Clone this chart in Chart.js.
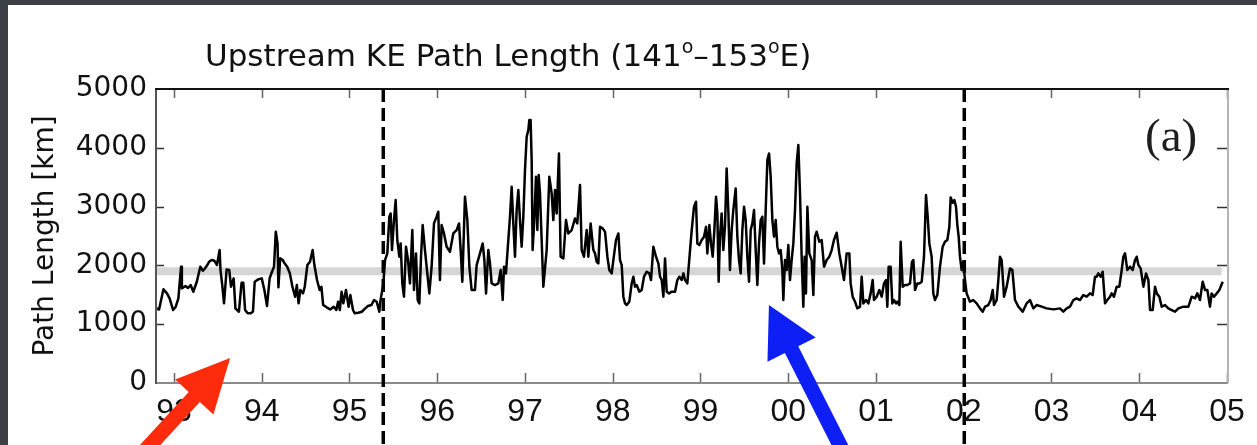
<!DOCTYPE html>
<html><head><meta charset="utf-8">
<script src="https://cdn.jsdelivr.net/npm/chart.js@4/dist/chart.umd.min.js"></script>
<style>html,body{margin:0;padding:0;background:#3d4047;}canvas{display:block;}</style>
</head><body>
<canvas id="c" width="1257" height="445"></canvas>
<script>
// decimal year minus 1900, path length [km]
const stable1993to1995 = [
[92.80,1270],[92.83,1250],[92.88,1593],[92.92,1525],[92.95,1440],[92.99,1241],
[93.02,1297],[93.05,1440],[93.08,1977],[93.09,1610],[93.13,1649],[93.16,1615],[93.19,1666],[93.22,1552],[93.26,1722],[93.30,1977],
[93.33,1909],[93.35,1943],[93.38,2006],[93.40,2062],[93.43,2091],[93.46,2080],[93.49,2006],[93.52,2261],[93.53,1921],[93.55,1666],
[93.57,1355],[93.60,1932],[93.63,1921],[93.65,1637],[93.68,1779],[93.70,1270],[93.72,1241],[93.74,1212],[93.77,1705],[93.79,1705],
[93.81,1241],[93.84,1185],[93.87,1185],[93.90,1212],[93.92,1722],[93.96,1762],
[94.00,1779],[94.03,1581],[94.06,1309],[94.09,1779],[94.11,1865],[94.14,1977],[94.16,2572],[94.18,2375],[94.19,1627],[94.21,2120],
[94.24,2091],[94.26,2035],[94.29,1977],[94.32,1865],[94.35,1637],[94.38,1467],[94.40,1666],[94.42,1355],[94.44,1581],[94.47,1525],
[94.49,1637],[94.52,2006],[94.55,2062],[94.58,2261],[94.60,2006],[94.63,1751],[94.66,1581],[94.68,1637],[94.70,1326],[94.74,1287],
[94.78,1250],[94.82,1297],[94.85,1241],[94.87,1382],[94.89,1241],[94.91,1552],[94.93,1355],[94.96,1581],[94.99,1297],
[95.01,1495],[95.04,1241],[95.06,1185],[95.10,1195],[95.14,1212],[95.18,1270],[95.21,1309],[95.25,1326],[95.28,1410],[95.31,1382],[95.34,1212]
];
const unstable1995to2002 = [
[95.348,1354],[95.386,1694],[95.405,2091],[95.431,2204],[95.454,2828],[95.469,2884],[95.484,2261],[95.507,2771],[95.526,3111],[95.545,2431],
[95.568,2148],[95.583,2374],[95.602,1694],[95.621,1468],[95.644,2318],[95.667,2091],[95.689,1694],[95.716,2601],[95.735,1581],[95.758,2204],
[95.777,1411],[95.796,1354],[95.815,2148],[95.834,2686],[95.860,2261],[95.879,1978],[95.910,1524],[95.936,1978],[95.963,2714],[95.993,2828],
[96.012,2913],[96.031,1751],[96.050,2686],[96.077,2544],[96.107,2318],[96.145,2233],[96.183,2544],[96.221,2601],[96.248,2714],[96.267,2261],
[96.286,1723],[96.316,3168],[96.343,2771],[96.366,1978],[96.392,1581],[96.430,1581],[96.449,2006],[96.487,2204],[96.518,2374],[96.537,2091],
[96.556,1524],[96.582,2261],[96.601,2034],[96.620,1694],[96.658,1666],[96.696,1694],[96.723,1921],[96.746,1411],[96.761,1978],[96.783,1864],
[96.810,2431],[96.829,2828],[96.848,3338],[96.867,2714],[96.886,2148],[96.905,2941],[96.924,3281],[96.943,2771],[96.962,2318],[96.981,2828],
[97.000,3621],[97.019,4188],[97.038,4301],[97.049,4471],[97.064,4471],[97.076,3791],[97.087,2261],[97.106,2771],[97.125,3508],[97.141,2601],
[97.156,3536],[97.171,3224],[97.209,1638],[97.247,2261],[97.277,3508],[97.304,3224],[97.323,2771],[97.342,3281],[97.361,2884],[97.387,3904],
[97.406,2148],[97.437,2119],[97.467,2771],[97.494,2544],[97.532,2601],[97.570,2799],[97.596,2714],[97.627,3366],[97.646,2261],[97.672,2148],
[97.703,2601],[97.722,2148],[97.748,2714],[97.779,2261],
[97.798,2204],[97.817,2062],[97.836,2034],[97.855,2658],[97.885,2630],[97.912,2573],[97.939,2148],[97.961,1921],[97.988,1864],[98.007,2091],
[98.037,2431],[98.064,2544],[98.083,2091],[98.102,2006],[98.121,1468],[98.140,1354],[98.159,1326],[98.189,1383],[98.216,1694],[98.235,1808],
[98.254,1638],[98.273,1666],[98.303,1553],[98.330,1581],[98.356,1808],[98.387,1893],[98.417,1864],[98.436,1751],[98.463,2318],[98.493,2148],
[98.520,2034],[98.539,1808],[98.558,1751],[98.577,1468],[98.596,2119],[98.615,1553],[98.641,1524],[98.672,1553],[98.710,1553],[98.736,1751],
[98.759,1808],[98.786,1751],[98.805,1864],[98.824,1751],[98.850,1694],[98.881,2261],[98.900,2601],[98.926,2998],[98.949,3083],[98.964,2374],
[98.987,2346],[99.014,2431],[99.040,2488],[99.063,2658],[99.078,2204],[99.101,2686],[99.120,2374],[99.139,2148],[99.158,2601],[99.177,3168],
[99.192,2884],[99.207,1723],[99.222,2488],[99.241,2884],[99.260,2261],[99.279,2658],[99.298,3649],[99.317,2941],[99.336,1921],[99.355,2601],
[99.374,2941],[99.401,3309],[99.420,2488],[99.439,2091],[99.458,1864],[99.477,2601],[99.496,2998],[99.515,2771],[99.534,2148],[99.553,1723],
[99.572,2601],[99.591,2714],[99.610,2941],[99.629,2261],[99.648,1666],[99.667,2374],[99.686,2771],[99.705,2828],[99.724,2034],[99.743,2941],
[99.762,3791],[99.781,3904],[99.800,3508],[99.819,2771],[99.838,2488],[99.857,2771],[99.876,2318],[99.895,2204],[99.914,2261],[99.933,1921],
[99.944,1411],[99.963,2091],[99.982,1921],[100.001,2346],[100.020,1751],[100.039,2091],[100.058,2374],[100.077,2941],[100.096,3734],[100.115,4046],
[100.134,3224],[100.153,2148],[100.172,1298],
[100.187,2148],[100.202,1524],[100.218,2998],[100.240,2204],[100.267,2091],[100.286,1496],[100.305,2488],[100.324,2573],[100.354,2402],[100.381,2431],
[100.408,1978],[100.438,2091],[100.468,2148],[100.495,2261],[100.521,2431],[100.552,2556],[100.582,2204],[100.609,1978],[100.635,1751],[100.666,2204],
[100.696,2204],[100.711,1694],[100.734,1468],[100.761,1383],[100.787,1270],[100.818,1298],[100.837,1808],[100.856,1354],[100.886,1411],[100.913,1354],
[100.939,1524],[100.962,1751],[100.977,1411],[101.008,1468],[101.038,1581],[101.065,1468],[101.091,1694],[101.114,1751],[101.129,1298],[101.144,1978],
[101.167,1978],[101.186,1354],[101.205,1411],[101.228,1354],[101.243,1383],[101.266,1326],[101.281,2402],[101.304,1638],[101.331,1666],[101.357,1666],
[101.388,1694],[101.410,2062],[101.426,2091],[101.445,1581],[101.471,1694],[101.494,1694],[101.521,1723],[101.547,2148],[101.570,3196],[101.589,2828],
[101.608,2374],[101.634,2148],[101.653,1524],[101.672,1411],[101.699,1496],[101.729,1978],[101.760,2318],[101.786,2402],[101.813,2431],[101.836,2658],
[101.851,3156],[101.874,3066],[101.893,3111],[101.912,2998],[101.927,2686],[101.942,2488],[101.957,2148],[101.976,1921],[101.995,2062],[102.014,1751]
];
const stable2002to2005 = [
[102.033,1524],[102.071,1383],[102.109,1411],[102.147,1355],[102.185,1269],[102.216,1213],[102.242,1298],[102.280,1326],[102.307,1411],[102.330,1581],
[102.345,1326],[102.375,1411],[102.394,1751],[102.413,2148],[102.432,2091],[102.459,1468],[102.489,1638],[102.527,1949],[102.554,1921],[102.584,1411],
[102.622,1298],[102.672,1213],[102.717,1355],[102.755,1411],[102.793,1269],[102.831,1326],[102.888,1298],[102.945,1269],[103.021,1252],[103.097,1269],
[103.135,1213],[103.173,1269],[103.211,1298],[103.249,1411],[103.287,1440],[103.325,1411],[103.363,1496],[103.401,1468],[103.439,1524],[103.469,1496],
[103.496,1808],[103.515,1808],[103.534,1864],[103.561,1808],[103.583,1893],[103.610,1355],[103.636,1411],[103.667,1468],[103.686,1524],[103.712,1468],
[103.743,1638],[103.773,1638],[103.800,1921],[103.819,2148],[103.838,2204],[103.864,1921],[103.895,1978],[103.925,1921],[103.952,2091],[103.971,2148],
[103.990,2006],[104.016,1949],[104.047,1638],[104.077,1864],[104.104,1751],[104.123,1241],[104.153,1241],[104.180,1638],[104.199,1524],[104.229,1468],
[104.256,1298],[104.294,1326],[104.332,1269],[104.370,1241],[104.408,1213],[104.446,1269],[104.503,1298],[104.560,1298],[104.598,1468],[104.636,1440],
[104.662,1524],[104.692,1411],[104.723,1723],[104.750,1581],[104.776,1581],[104.806,1298],[104.825,1524],[104.852,1468],[104.883,1524],[104.913,1581],
[104.951,1723]
];
const meanPathLength = 1900;
const meanLineSpan = [92.795, 104.94];
const regimeShiftYears = [95.385, 102.006];
const xTickValues = [93,94,95,96,97,98,99,100,101,102,103,104,105];
const xTickLabels = ['93','94','95','96','97','98','99','00','01','02','03','04','05'];
const yTickValues = [0,1000,2000,3000,4000,5000];
const yTickLabels = ['0','1000','2000','3000','4000','5000'];
// annotation arrows: tip position in data units
const redArrowTip = [93.64, 425];
const blueArrowTip = [99.78, 1326];

const series = stable1993to1995.concat(unstable1995to2002, stable2002to2005).map(p => ({x: p[0], y: p[1]}));
const W = 1257, H = 445;

function drawArrow(ctx, tipX, tipY, dx, dy, len, headLen, headHalf, shaftHalf, color) {
  const px = -dy, py = dx;
  const bx = tipX + dx * headLen, by = tipY + dy * headLen;
  const tx = tipX + dx * len, ty = tipY + dy * len;
  ctx.fillStyle = color;
  ctx.beginPath();
  ctx.moveTo(tipX, tipY);
  ctx.lineTo(bx + px * headHalf, by + py * headHalf);
  ctx.lineTo(bx + px * shaftHalf, by + py * shaftHalf);
  ctx.lineTo(tx + px * shaftHalf, ty + py * shaftHalf);
  ctx.lineTo(tx - px * shaftHalf, ty - py * shaftHalf);
  ctx.lineTo(bx - px * shaftHalf, by - py * shaftHalf);
  ctx.lineTo(bx - px * headHalf, by - py * headHalf);
  ctx.closePath();
  ctx.fill();
}

const framePlugin = {
  id: 'framePlugin',
  beforeDraw(chart) {
    const ctx = chart.ctx;
    ctx.save();
    ctx.fillStyle = '#3d4047';
    ctx.fillRect(0, 0, W, H);
    ctx.fillStyle = '#ffffff';
    ctx.fillRect(8, 5, W - 8, H - 5);
    ctx.restore();
  },
  afterDatasetsDraw(chart) {
    const {ctx, chartArea: a, scales: {x, y}} = chart;
    ctx.save();
    ctx.lineCap = 'butt';
    ctx.lineWidth = 1.5;
    ctx.strokeStyle = '#666';
    xTickValues.forEach(v => {
      const px = Math.round(x.getPixelForValue(v)) + 0.5;
      ctx.beginPath();
      ctx.moveTo(px, a.bottom); ctx.lineTo(px, a.bottom - 10);
      ctx.moveTo(px, a.top); ctx.lineTo(px, a.top + 9);
      ctx.stroke();
    });
    ctx.strokeStyle = '#333';
    yTickValues.slice(1, -1).forEach(v => {
      const py = Math.round(y.getPixelForValue(v)) + 0.5;
      ctx.beginPath();
      ctx.moveTo(a.left, py); ctx.lineTo(a.left + 8, py);
      ctx.moveTo(a.right, py); ctx.lineTo(a.right - 10, py);
      ctx.stroke();
    });
    ctx.lineWidth = 2;
    ctx.strokeStyle = '#8a8a8a';
    ctx.beginPath(); ctx.moveTo(a.left, a.bottom); ctx.lineTo(a.right + 1, a.bottom); ctx.stroke();
    ctx.strokeStyle = '#b4b4b4';
    ctx.beginPath(); ctx.moveTo(a.right + 1, a.top); ctx.lineTo(a.right + 1, a.bottom); ctx.stroke();
    ctx.strokeStyle = '#555';
    ctx.beginPath(); ctx.moveTo(a.left, a.top); ctx.lineTo(a.left, a.bottom + 1); ctx.stroke();
    ctx.strokeStyle = '#111';
    ctx.beginPath(); ctx.moveTo(a.left - 1, a.top); ctx.lineTo(a.right + 2, a.top); ctx.stroke();
    ctx.restore();
  },
  afterDraw(chart) {
    const {ctx, chartArea: a, scales: {x, y}} = chart;
    ctx.save();
    ctx.strokeStyle = '#000';
    ctx.lineWidth = 3.5;
    ctx.setLineDash([13, 6]);
    regimeShiftYears.forEach(v => {
      const px = x.getPixelForValue(v);
      ctx.beginPath(); ctx.moveTo(px, a.top); ctx.lineTo(px, H); ctx.stroke();
    });
    ctx.setLineDash([]);
    ctx.fillStyle = '#111';
    ctx.textBaseline = 'alphabetic';
    let tx = 205; const ty = 66;
    const big = '31px "DejaVu Sans"', sup = '19px "DejaVu Sans"';
    const parts = [['Upstream KE Path Length (141', big, 0], ['o', sup, -13], ['\u2013153', big, 0], ['o', sup, -13], ['E)', big, 0]];
    parts.forEach(([t, f, dy]) => { ctx.font = f; ctx.fillText(t, tx, ty + dy); tx += ctx.measureText(t).width; });
    ctx.font = '47px "Liberation Serif"';
    ctx.fillStyle = '#1e1e1e';
    ctx.fillText('(a)', 1145, 151);
    drawArrow(ctx, x.getPixelForValue(redArrowTip[0]), y.getPixelForValue(redArrowTip[1]), -0.677, 0.736, 150, 53, 26, 7.5, '#ff2b0d');
    drawArrow(ctx, x.getPixelForValue(blueArrowTip[0]), y.getPixelForValue(blueArrowTip[1]), 0.452, 0.892, 170, 50, 27, 7.5, '#0d1ff5');
    ctx.restore();
  }
};

new Chart(document.getElementById('c'), {
  type: 'line',
  data: {
    datasets: [
      {data: series, borderColor: '#000', borderWidth: 2.5, pointRadius: 0, tension: 0, borderJoinStyle: 'round', order: 0},
      {data: meanLineSpan.map(v => ({x: v, y: meanPathLength})), borderColor: '#d6d6d6', borderWidth: 8, pointRadius: 0, borderCapStyle: 'butt', order: 1}
    ]
  },
  options: {
    responsive: false,
    animation: false,
    devicePixelRatio: 1,
    layout: {padding: {left: 8, top: 89, right: 30, bottom: 0}},
    plugins: {legend: {display: false}, tooltip: {enabled: false}, title: {display: false}},
    scales: {
      x: {
        type: 'linear', min: 92.795, max: 105,
        grid: {display: false, drawTicks: false, tickLength: 0},
        border: {display: false},
        afterBuildTicks: s => { s.ticks = xTickValues.map(v => ({value: v})); },
        afterFit: s => { s.height = 62; },
        ticks: {
          autoSkip: false, maxRotation: 0, padding: 10, color: '#111',
          font: {family: 'Liberation Sans', size: 32},
          callback: (v, i) => xTickLabels[i]
        }
      },
      y: {
        type: 'linear', min: 0, max: 5000,
        grid: {display: false, drawTicks: false, tickLength: 0},
        border: {display: false},
        afterBuildTicks: s => { s.ticks = yTickValues.map(v => ({value: v})); },
        afterFit: s => { s.width = 148; },
        ticks: {
          padding: 9, color: '#111',
          font: {family: 'DejaVu Sans', size: 28},
          callback: (v, i) => yTickLabels[i]
        },
        title: {display: true, text: 'Path Length [km]', color: '#111', font: {family: 'DejaVu Sans', size: 28}, padding: {top: 21, bottom: 0}}
      }
    }
  },
  plugins: [framePlugin]
});
</script>
</body></html>
